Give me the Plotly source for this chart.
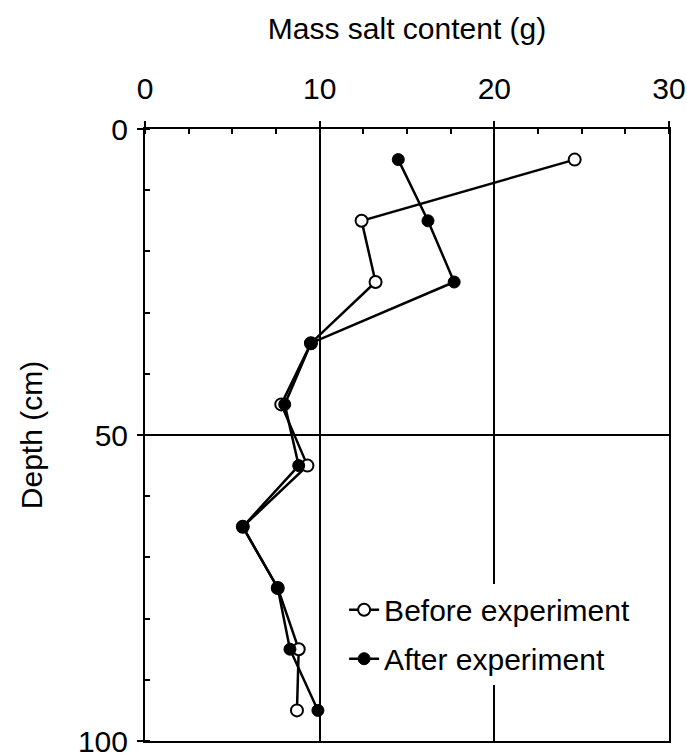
import plotly.graph_objects as go

depth = [5, 15, 25, 35, 45, 55, 65, 75, 85, 95]
before = [24.6, 12.4, 13.2, 9.5, 7.8, 9.3, 5.6, 7.6, 8.8, 8.7]
after = [14.5, 16.2, 17.7, 9.5, 8.0, 8.8, 5.6, 7.6, 8.3, 9.9]

FONT = "Liberation Sans, Arial, Helvetica, sans-serif"

fig = go.Figure()
fig.add_trace(go.Scatter(
    x=before, y=depth, mode="lines+markers", name="Before experiment",
    legendgroup="a",
    line=dict(color="black", width=2.5),
    marker=dict(symbol="circle", size=12, color="white", line=dict(color="black", width=2)),
))
fig.add_trace(go.Scatter(
    x=after, y=depth, mode="lines+markers", name="After experiment",
    legendgroup="b",
    line=dict(color="black", width=2.5),
    marker=dict(symbol="circle", size=12, color="black", line=dict(color="black", width=1)),
))

fig.update_layout(
    width=687, height=756,
    margin=dict(l=145, r=18, t=129, b=15),
    paper_bgcolor="white", plot_bgcolor="white",
    font=dict(family=FONT, size=28, color="black"),
    showlegend=True,
    legend=dict(x=0.38, y=0.257, xanchor="left", yanchor="top",
                bgcolor="rgba(255,255,255,1)", font=dict(size=30, family=FONT),
                tracegroupgap=7, traceorder="grouped"),
    xaxis=dict(
        side="top", range=[0, 30], dtick=10, tick0=0, automargin=False,
        showline=True, linecolor="black", linewidth=2, mirror=True,
        showgrid=True, gridcolor="black", gridwidth=1.5,
        zeroline=False,
        ticks="outside", ticklen=6, tickwidth=1.5, tickcolor="black",
        ticklabelstandoff=10, ticklabeloverflow="allow",
        tickfont=dict(size=30),
        minor=dict(dtick=2.5, ticks="inside", ticklen=5, tickwidth=1.5, tickcolor="black", showgrid=False),
        title=dict(text="Mass salt content (g)", font=dict(size=30), standoff=24),
    ),
    yaxis=dict(
        range=[100, 0], dtick=50, tick0=0, automargin=False,
        showline=True, linecolor="black", linewidth=2, mirror=True,
        showgrid=True, gridcolor="black", gridwidth=1.5,
        zeroline=False,
        ticks="outside", ticklen=6, tickwidth=1.5, tickcolor="black",
        ticklabelstandoff=3, ticklabeloverflow="allow",
        tickfont=dict(size=30),
        minor=dict(dtick=10, ticks="inside", ticklen=5, tickwidth=1.5, tickcolor="black", showgrid=False),
        title=dict(text="Depth (cm)", font=dict(size=30), standoff=26),
    ),
)

fig.write_html("out.html")
